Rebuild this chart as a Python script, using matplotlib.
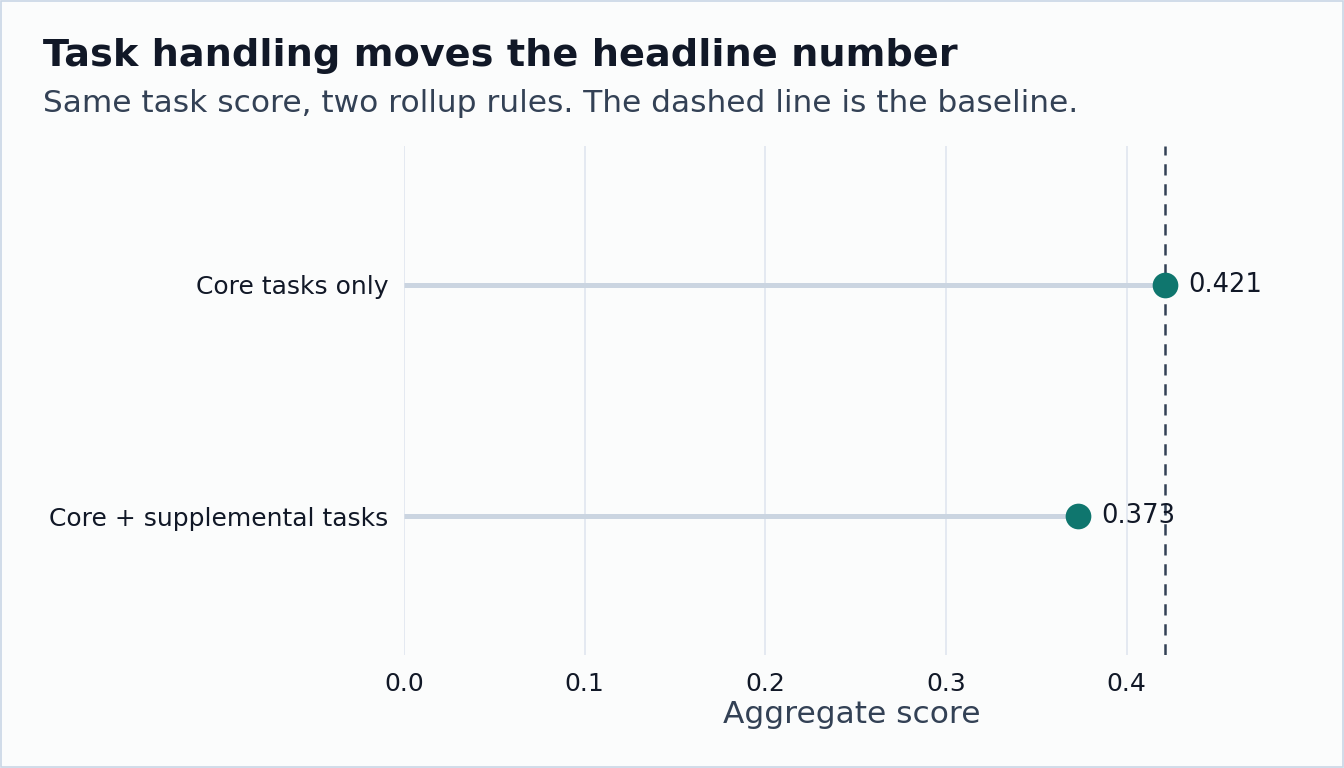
import matplotlib
matplotlib.use("Agg")
import matplotlib.pyplot as plt

# data
labels = ["Core + supplemental tasks", "Core tasks only"]
scores = [0.373, 0.421]
baseline = 0.421
xticks = [0.0, 0.1, 0.2, 0.3, 0.4]

bg = "#fbfcfc"
teal = "#0f766e"
stem = "#cbd5e1"
grid = "#e2e8f0"
dark = "#111827"
slate = "#334155"

plt.rcParams["font.family"] = ["DejaVu Sans"]

fig = plt.figure(figsize=(13.44, 7.68), dpi=100, facecolor=bg)
ax = fig.add_axes([404 / 1344, 1 - 655 / 768, 896 / 1344, 509 / 768])
ax.set_facecolor(bg)

ypos = list(range(len(labels)))
ax.hlines(ypos, 0, scores, color=stem, lw=3.6, zorder=2)
ax.plot(scores, ypos, "o", color=teal, ms=18.5, mec="none", zorder=4)
ax.axvline(baseline, color=slate, lw=1.8, dashes=(4.5, 3.5), zorder=3)

for y, v in zip(ypos, scores):
    ax.annotate(f"{v:.3f}", (v, y), xytext=(17, 0), textcoords="offset points",
                va="center", ha="left", fontsize=18.5, color=dark, zorder=5)

ax.set_xlim(0, 0.496)
ax.set_ylim(-0.6, 1.6)
ax.set_xticks(xticks)
ax.set_xticklabels([f"{t:.1f}" for t in xticks])
ax.set_yticks(ypos)
ax.set_yticklabels(labels)
ax.tick_params(axis="x", length=0, pad=12, labelsize=18, labelcolor=dark)
ax.tick_params(axis="y", length=0, pad=11, labelsize=18, labelcolor=dark)
ax.grid(axis="x", color=grid, lw=1.3, zorder=0)
ax.grid(axis="y", visible=False)
for s in ax.spines.values():
    s.set_visible(False)
ax.set_xlabel("Aggregate score", fontsize=22.5, color=slate, labelpad=3)

fig.text(43 / 1344, 1 - 66 / 768, "Task handling moves the headline number",
         fontsize=27.5, fontweight="bold", color=dark, va="baseline", ha="left")
fig.text(43 / 1344, 1 - 112 / 768,
         "Same task score, two rollup rules. The dashed line is the baseline.",
         fontsize=22.5, color=slate, va="baseline", ha="left")

fig.patches.append(plt.Rectangle((0.0004, 0.0007), 0.9992, 0.9986, transform=fig.transFigure,
                                 fill=False, edgecolor="#c9d6e6", lw=1.2))

fig.savefig("out.png", dpi=100, facecolor=bg)
